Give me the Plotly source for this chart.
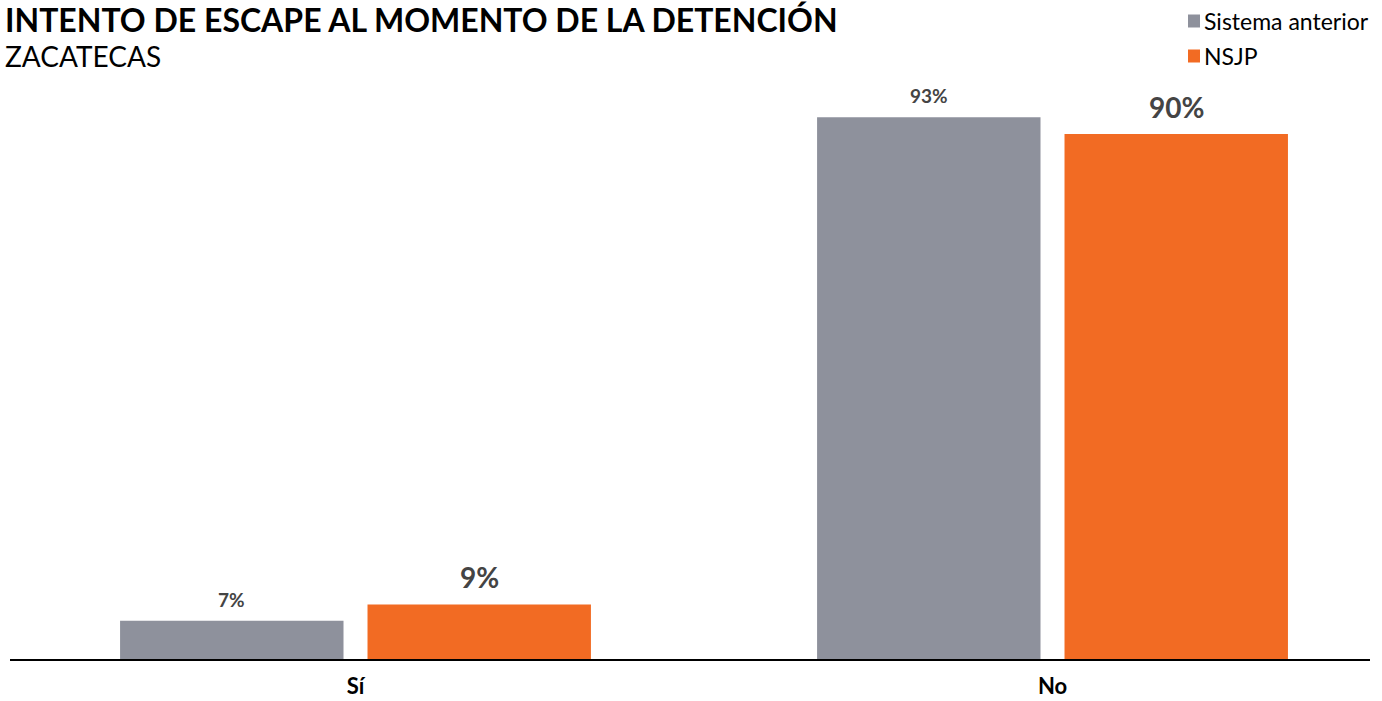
import plotly.graph_objects as go

categories = ["Sí", "No"]
series_names = ["Sistema anterior", "NSJP"]
sistema_anterior = [6.6, 93.4]
nsjp = [9.4, 90.5]
sistema_labels = ["7%", "93%"]
nsjp_labels = ["9%", "90%"]
colors = ["#8E919C", "#F26B23"]

title = "INTENTO DE ESCAPE AL MOMENTO DE LA DETENCIÓN"
subtitle = "ZACATECAS"

FONT = "Lato, 'Open Sans', sans-serif"

W, H = 1382, 701
scr_left, scr_right, scr_top, scr_bottom = 10, 1370, 80, 659
ml = scr_left
mr = W - scr_right
mt = scr_top
mb = H - scr_bottom
PW = W - ml - mr
PH = H - mt - mb


def px_x(x):
    return (x - ml) / PW


def px_y(y):
    return (H - mb - y) / PH


fig = go.Figure()
fig.add_trace(go.Bar(x=categories, y=sistema_anterior, name=series_names[0],
                     marker=dict(color=colors[0], line=dict(width=0)), showlegend=False))
fig.add_trace(go.Bar(x=categories, y=nsjp, name=series_names[1],
                     marker=dict(color=colors[1], line=dict(width=0)), showlegend=False))

anns = []
for cat, v, lab in zip(categories, sistema_anterior, sistema_labels):
    anns.append(dict(x=cat, y=v, text=f"<b>{lab}</b>", showarrow=False,
                     xref="x", yref="y", xanchor="center", yanchor="bottom",
                     xshift=-124, yshift=8,
                     font=dict(family=FONT, size=19, color="#444444")))
for cat, v, lab in zip(categories, nsjp, nsjp_labels):
    anns.append(dict(x=cat, y=v, text=f"<b>{lab}</b>", showarrow=False,
                     xref="x", yref="y", xanchor="center", yanchor="bottom",
                     xshift=124, yshift=8,
                     font=dict(family=FONT, size=28, color="#444444")))

anns.append(dict(x=px_x(3), y=px_y(19), xref="paper", yref="paper", text=f"<b>{title}</b>",
                 showarrow=False, xanchor="left", yanchor="middle",
                 font=dict(family=FONT, size=32, color="#000000")))
anns.append(dict(x=px_x(3), y=px_y(56), xref="paper", yref="paper", text=subtitle,
                 showarrow=False, xanchor="left", yanchor="middle",
                 font=dict(family=FONT, size=28, color="#000000")))

shapes = []
for i, (name, col) in enumerate(zip(series_names, colors)):
    yc = 21 + 35 * i
    shapes.append(dict(type="rect", xref="paper", yref="paper",
                       x0=px_x(1188), x1=px_x(1200), y0=px_y(yc + 6.5), y1=px_y(yc - 6.5),
                       fillcolor=col, line=dict(width=0)))
    anns.append(dict(x=px_x(1202), y=px_y(yc), xref="paper", yref="paper",
                     text=name, showarrow=False, xanchor="left", yanchor="middle",
                     font=dict(family=FONT, size=23, color="#000000")))

fig.update_layout(
    annotations=anns,
    shapes=shapes,
    width=W, height=H,
    margin=dict(l=ml, r=mr, t=mt, b=mb, autoexpand=False),
    paper_bgcolor="white", plot_bgcolor="white",
    barmode="group", bargap=0.290, bargroupgap=0.097,
    showlegend=False,
    xaxis=dict(type="category", range=[-0.4957, 1.4555], showline=True, linecolor="#000000",
               linewidth=2, ticks="", showgrid=False, zeroline=False, automargin=False,
               tickfont=dict(family=FONT, size=22, color="#000000"),
               tickprefix="<b>", ticksuffix="</b>", ticklabelstandoff=7),
    yaxis=dict(range=[0, (scr_bottom - scr_top) / 5.8], visible=False, automargin=False,
               showgrid=False, zeroline=False),
    font=dict(family=FONT),
)

fig.write_html("out.html", config={"displayModeBar": False},
               post_script="document.body.style.margin='0';document.body.style.overflow='hidden';")
